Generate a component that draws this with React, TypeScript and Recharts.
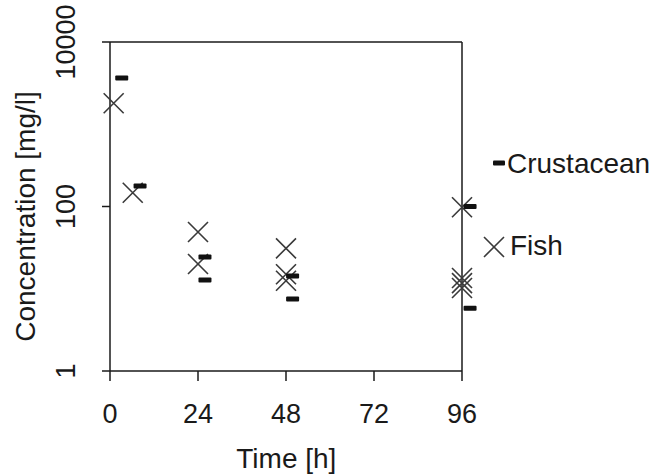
import { ScatterChart, Scatter, XAxis, YAxis, ReferenceLine, Label } from 'recharts';

// tick values
const timeTicks = [0, 24, 48, 72, 96];
const concTicks = [1, 100, 10000];

// Crustacean: time [h] / concentration [mg/l]
const crustaceanTime = [3.2, 8.2, 25.9, 25.9, 49.8, 49.8, 98.2, 98.2];
const crustaceanConc = [3650, 177, 24.3, 12.8, 14.3, 7.5, 100, 5.8];

// Fish
const fishTime = [1, 6.2, 24, 24, 48, 48, 48, 96, 96, 96, 96];
const fishConc = [1800, 147, 49, 20, 31, 15, 12.5, 98, 13.5, 11.7, 10.2];

const seriesNames = ['Crustacean', 'Fish'];

const FONT = '"Liberation Sans", Arial, Helvetica, sans-serif';
const INK = '#1a1a1a';

const crustaceanData = crustaceanTime.map((t, i) => ({ t, c: crustaceanConc[i] }));
const fishData = fishTime.map((t, i) => ({ t, c: fishConc[i] }));

const DashShape = (props: any) => {
  const { cx, cy } = props;
  return <rect x={cx - 6.5} y={cy - 2.5} width={13} height={5} rx={1} fill="#111" />;
};

const CrossShape = (props: any) => {
  const { cx, cy } = props;
  const h = 10;
  return (
    <path
      d={`M${cx - h},${cy - h}L${cx + h},${cy + h}M${cx + h},${cy - h}L${cx - h},${cy + h}`}
      stroke="#3a3a3a"
      strokeWidth={1.6}
      fill="none"
    />
  );
};

const XTick = (props: any) => {
  const { x, y, payload } = props;
  return (
    <text x={x} y={y} dy={42} textAnchor="middle" fontSize={27} fontFamily={FONT} fill={INK}>
      {payload.value}
    </text>
  );
};

const YTick = (props: any) => {
  const { x, y, payload } = props;
  return (
    <text
      transform={`translate(${x - 27},${y}) rotate(-90)`}
      textAnchor="middle"
      fontSize={27}
      fontFamily={FONT}
      fill={INK}
    >
      {payload.value}
    </text>
  );
};

const YTitle = (props: any) => {
  const { viewBox } = props;
  const cx = viewBox.x + 35;
  const cy = viewBox.y + viewBox.height / 2 + 10;
  return (
    <text
      transform={`translate(${cx},${cy}) rotate(-90)`}
      textAnchor="middle"
      fontSize={28}
      fontFamily={FONT}
      fill={INK}
    >
      Concentration [mg/l]
    </text>
  );
};

function LegendBox() {
  return (
    <svg
      width={183}
      height={130}
      style={{ position: 'absolute', left: 480, top: 140 }}
    >
      <rect x={13} y={20.5} width={12} height={5} rx={1} fill="#111" />
      <text x={27} y={33} fontSize={28} fontFamily={FONT} fill={INK}>
        {seriesNames[0]}
      </text>
      <path d="M4,97L24,117M24,97L4,117" stroke="#3a3a3a" strokeWidth={1.6} fill="none" />
      <text x={30} y={115} fontSize={28} fontFamily={FONT} fill={INK}>
        {seriesNames[1]}
      </text>
    </svg>
  );
}

export default function App() {
  const line = { stroke: INK, strokeWidth: 1.5 };
  return (
    <div style={{ position: 'absolute', left: 0, top: 0, width: 663, height: 476, background: '#fff' }}>
      <ScatterChart width={663} height={476} margin={{ top: 42, right: 186.33, bottom: 0, left: 0 }}>
        <XAxis
          type="number"
          dataKey="t"
          domain={[0, 100]}
          ticks={timeTicks}
          interval={0}
          axisLine={false}
          tickSize={10}
          tickMargin={0}
          tickLine={line}
          tick={<XTick />}
          height={105}
        >
          <Label
            value="Time [h]"
            position="insideBottom"
            offset={8}
            dx={-7}
            fontSize={28}
            fontFamily={FONT}
            fill={INK}
          />
        </XAxis>
        <YAxis
          type="number"
          dataKey="c"
          scale="log"
          domain={[1, 10000]}
          ticks={concTicks}
          interval={0}
          axisLine={line}
          tickSize={8}
          tickMargin={0}
          tickLine={line}
          tick={<YTick />}
          width={110}
        >
          <Label content={<YTitle />} />
        </YAxis>
        <ReferenceLine segment={[{ x: 0, y: 10000 }, { x: 96, y: 10000 }]} {...line} />
        <ReferenceLine segment={[{ x: 0, y: 1 }, { x: 96, y: 1 }]} {...line} />
        <ReferenceLine x={96} {...line} />
        <Scatter
          name={seriesNames[1]}
          data={fishData}
          shape={<CrossShape />}
          isAnimationActive={false}
        />
        <Scatter
          name={seriesNames[0]}
          data={crustaceanData}
          shape={<DashShape />}
          isAnimationActive={false}
        />
      </ScatterChart>
      <LegendBox />
    </div>
  );
}
